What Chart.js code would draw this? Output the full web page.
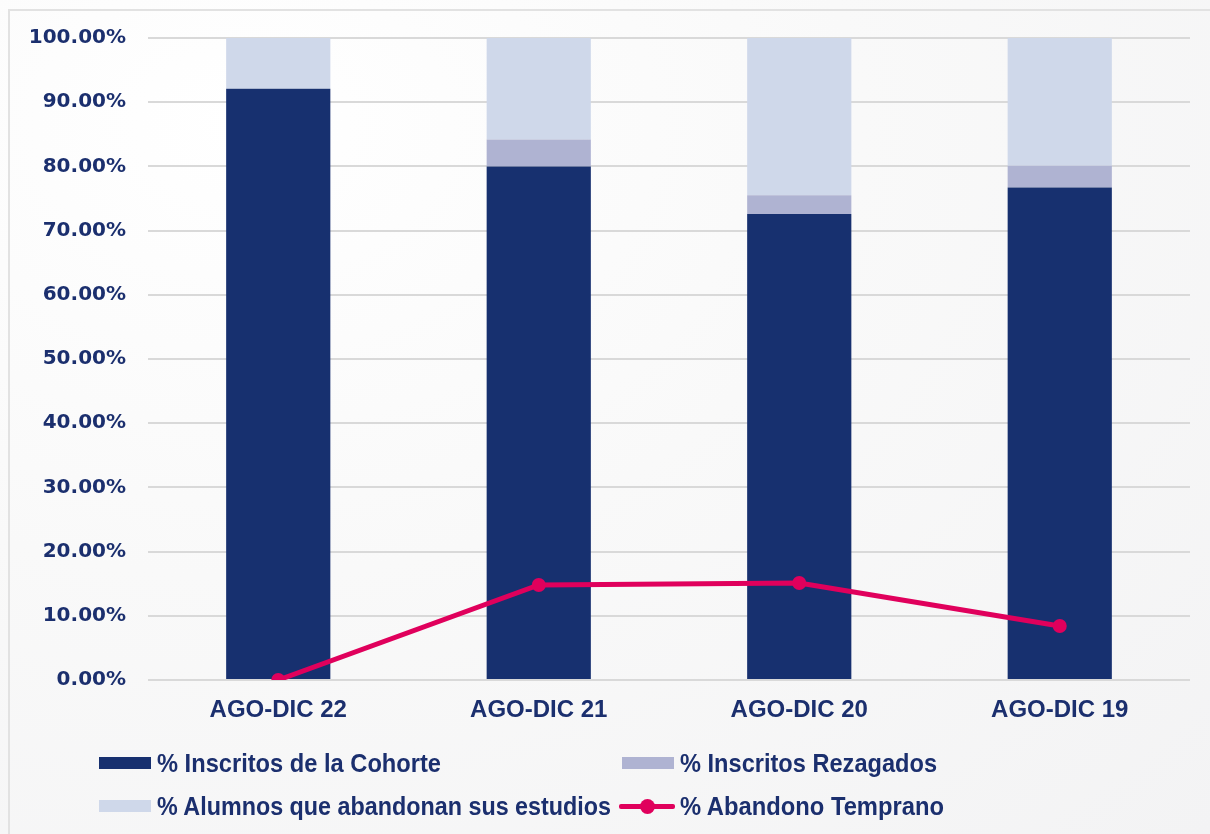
<!DOCTYPE html>
<html>
<head>
<meta charset="utf-8">
<script src="https://cdn.jsdelivr.net/npm/chart.js@4.4.0/dist/chart.umd.min.js"></script>
<style>
  html, body { margin: 0; padding: 0; }
  body {
    width: 1210px; height: 834px; overflow: hidden; position: relative;
    background: radial-gradient(ellipse at 20% 15%, #ffffff 0%, #f9f9f9 45%, #f3f3f4 100%);
  }
  #frame {
    position: absolute; left: 8px; top: 9px; width: 1300px; height: 900px;
    border-left: 2px solid #e2e2e2; border-top: 2px solid #e2e2e2;
  }
  #wrap { position: absolute; left: 0; top: 0; width: 1210px; height: 834px; }
  .leg {
    position: absolute; display: flex; align-items: center;
    font-family: "Liberation Sans", Arial, sans-serif;
    font-weight: bold; font-size: 25px; color: #1b2f6e;
    white-space: nowrap; height: 30px;
  }
  .txt { display: inline-block; transform-origin: 0 50%; }
  .box { width: 52px; height: 12px; margin-right: 6px; flex: none; }
  .ln { width: 56px; height: 14px; margin-right: 5px; position: relative; flex: none; }
  .ln::before { content: ""; position: absolute; left: 0; right: 0; top: 5px; height: 5px; background: #e0005c; border-radius: 2px; }
  .ln::after { content: ""; position: absolute; left: 21px; top: 0; width: 15px; height: 15px; border-radius: 50%; background: #e0005c; }
</style>
</head>
<body>
<div id="frame"></div>
<div id="wrap"><canvas id="c" width="1210" height="834"></canvas></div>
<div class="leg" style="left:99px; top:748px;"><span class="box" style="background:#17306f"></span><span class="txt" id="l0" data-w="284"></span></div>
<div class="leg" style="left:622px; top:748px;"><span class="box" style="background:#afb3d2"></span><span class="txt" id="l1" data-w="257"></span></div>
<div class="leg" style="left:99px; top:791px;"><span class="box" style="background:#cfd8ea"></span><span class="txt" id="l2" data-w="454"></span></div>
<div class="leg" style="left:619px; top:791px;"><span class="ln"></span><span class="txt" id="l3" data-w="264"></span></div>
<script>
const categories = ["AGO-DIC 22", "AGO-DIC 21", "AGO-DIC 20", "AGO-DIC 19"];
const seriesNames = ["% Inscritos de la Cohorte", "% Inscritos Rezagados", "% Alumnos que abandonan sus estudios", "% Abandono Temprano"];
const inscritosCohorte = [92.1, 80.0, 72.6, 76.7];
const inscritosRezagados = [0.0, 4.2, 2.9, 3.4];
const alumnosAbandonan = [7.9, 15.8, 24.5, 19.9];
const abandonoTemprano = [0.0, 14.8, 15.1, 8.4];
const yTicks = [0, 10, 20, 30, 40, 50, 60, 70, 80, 90, 100];

seriesNames.forEach((n, i) => {
  const el = document.getElementById('l' + i);
  el.textContent = n;
  const w = el.getBoundingClientRect().width;
  const target = parseFloat(el.dataset.w);
  if (w > 0) el.style.transform = 'scaleX(' + (target / w).toFixed(4) + ')';
});

const navy = '#1b2f6e';
new Chart(document.getElementById('c'), {
  data: {
    labels: categories,
    datasets: [
      { type: 'line', label: seriesNames[3], data: abandonoTemprano, stack: 'line', order: 0,
        borderColor: '#e0005c', backgroundColor: '#e0005c', borderWidth: 5,
        pointRadius: 7, pointHoverRadius: 7, pointBackgroundColor: '#e0005c', pointBorderWidth: 0, tension: 0 },
      { type: 'bar', label: seriesNames[0], data: inscritosCohorte, stack: 'bars', order: 1,
        backgroundColor: '#17306f', barPercentage: 0.4, categoryPercentage: 1 },
      { type: 'bar', label: seriesNames[1], data: inscritosRezagados, stack: 'bars', order: 1,
        backgroundColor: '#afb3d2', barPercentage: 0.4, categoryPercentage: 1 },
      { type: 'bar', label: seriesNames[2], data: alumnosAbandonan, stack: 'bars', order: 1,
        backgroundColor: '#cfd8ea', barPercentage: 0.4, categoryPercentage: 1 }
    ]
  },
  options: {
    responsive: false,
    animation: false,
    layout: { padding: { top: 38, right: 20, left: 0, bottom: 0 } },
    plugins: { legend: { display: false }, tooltip: { enabled: false } },
    scales: {
      x: {
        stacked: true,
        grid: { display: false, drawTicks: false },
        border: { display: false },
        ticks: { color: navy, padding: 16, font: { family: '"Liberation Sans", Arial, sans-serif', weight: 'bold', size: 24 } },
        afterFit: (s) => { s.height = 154; }
      },
      y: {
        stacked: true,
        min: 0, max: 100,
        afterBuildTicks: (s) => { s.ticks = yTicks.map(v => ({ value: v })); },
        grid: { color: '#d9d9d9', lineWidth: 2, drawTicks: false },
        border: { display: false },
        ticks: { color: navy, padding: 22,
          font: { family: '"DejaVu Sans", sans-serif', weight: 'bold', size: 20 },
          callback: (v) => v.toFixed(2) + '%' },
        afterFit: (s) => { s.width = 148; }
      }
    }
  }
});
</script>
</body>
</html>
